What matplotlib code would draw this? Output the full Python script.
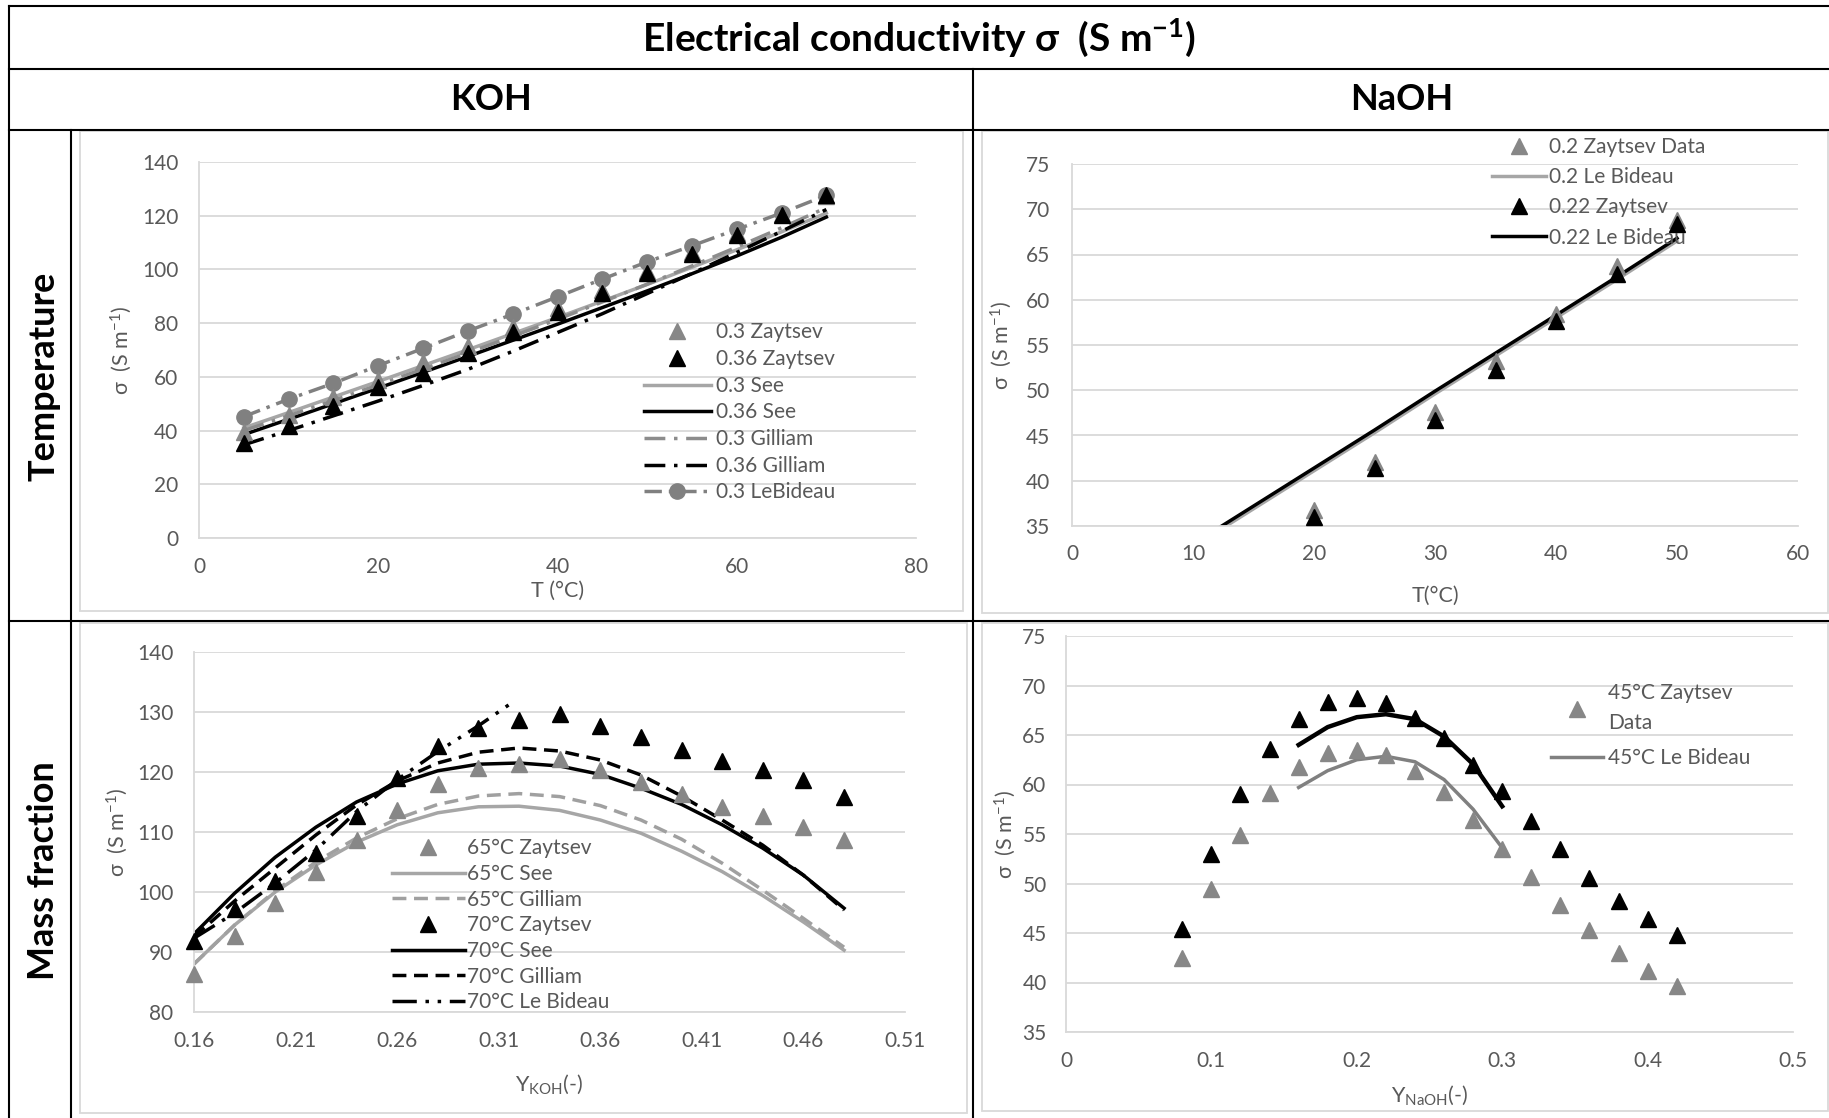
import matplotlib
matplotlib.use("Agg")
import matplotlib.pyplot as plt
from matplotlib.lines import Line2D
from matplotlib.patches import Rectangle

plt.rcParams['font.family'] = ['Lato', 'DejaVu Sans']
plt.rcParams['mathtext.fontset'] = 'custom'
plt.rcParams['mathtext.rm'] = 'Lato'
plt.rcParams['mathtext.it'] = 'Lato:italic'
plt.rcParams['mathtext.bf'] = 'Lato:bold'

# ---------------- data ----------------
# KOH vs temperature
koh_T = [5, 10, 15, 20, 25, 30, 35, 40, 45, 50, 55, 60, 65, 70]
koh_zaytsev_030 = [39.5, 45.8, 52.5, 59.0, 65.5, 71.5, 78.5, 85.5, 92.5, 99.5, 106.5, 113.5, 120.5, 127.5]
koh_zaytsev_036 = [35.3, 41.8, 49.0, 56.4, 61.5, 69.0, 76.8, 84.0, 91.3, 98.7, 105.9, 112.7, 120.2, 127.6]
koh_see_030 = [41.0, 46.7, 52.5, 58.3, 64.2, 70.1, 76.1, 82.1, 88.2, 94.4, 100.8, 107.3, 114.0, 121.0]
koh_see_036 = [38.5, 44.2, 50.0, 55.8, 61.7, 67.6, 73.6, 79.6, 85.8, 92.0, 98.4, 105.0, 112.0, 119.5]
koh_gilliam_030 = [40.0, 45.5, 51.2, 57.0, 62.9, 68.9, 75.1, 81.4, 87.9, 94.5, 101.3, 108.3, 115.5, 123.0]
koh_gilliam_036 = [34.7, 40.0, 45.5, 51.0, 56.8, 62.8, 69.5, 76.5, 83.5, 91.0, 98.5, 106.3, 114.2, 122.3]
koh_lebideau_030 = [45.2, 51.7, 57.6, 64.2, 70.6, 77.1, 83.3, 89.8, 96.4, 102.8, 108.8, 114.9, 121.0, 127.6]

# NaOH vs temperature
naoh_T = [20, 25, 30, 35, 40, 45, 50]
naoh_zaytsev_020 = [36.8, 42.1, 47.6, 53.2, 58.4, 63.7, 68.8]
naoh_zaytsev_022 = [36.0, 41.4, 46.7, 52.2, 57.7, 62.9, 68.4]
naoh_T_model = [10, 15, 20, 25, 30, 35, 40, 45, 50]
naoh_lebideau_020 = [32.7, 36.9, 41.1, 45.3, 49.6, 53.8, 58.0, 62.2, 66.5]
naoh_lebideau_022 = [33.0, 37.2, 41.4, 45.6, 49.9, 54.1, 58.3, 62.5, 66.8]

# KOH vs mass fraction
koh_Y = [0.16, 0.18, 0.20, 0.22, 0.24, 0.26, 0.28, 0.30, 0.32, 0.34, 0.36, 0.38, 0.40, 0.42, 0.44, 0.46, 0.48]
koh_zaytsev_65 = [86.4, 92.6, 98.2, 103.3, 108.7, 113.7, 118.0, 120.6, 121.3, 122.2, 120.3, 118.3, 116.3, 114.1, 112.7, 110.9, 108.6]
koh_see_65 = [88.0, 94.5, 100.0, 104.5, 108.3, 111.2, 113.2, 114.2, 114.3, 113.6, 112.0, 109.8, 106.8, 103.4, 99.4, 95.0, 90.3]
koh_gilliam_65 = [88.0, 94.5, 100.2, 105.0, 109.0, 112.2, 114.6, 116.0, 116.4, 115.9, 114.4, 112.0, 108.8, 104.8, 100.3, 95.6, 90.8]
koh_zaytsev_70 = [91.8, 97.2, 101.8, 106.5, 112.6, 119.0, 124.3, 127.3, 128.6, 129.7, 127.7, 125.8, 123.7, 121.8, 120.4, 118.6, 115.9]
koh_see_70 = [93.0, 99.8, 105.8, 110.8, 115.0, 118.0, 120.2, 121.3, 121.5, 121.0, 119.6, 117.3, 114.6, 111.2, 107.3, 102.8, 97.3]
koh_gilliam_70 = [92.5, 98.5, 104.0, 109.5, 114.5, 118.5, 121.5, 123.3, 124.0, 123.5, 122.0, 119.5, 116.0, 112.0, 107.8, 102.8, 97.0]
koh_Y_lebideau = [0.16, 0.18, 0.20, 0.22, 0.24, 0.26, 0.28, 0.30, 0.318]
koh_lebideau_70 = [92.3, 96.5, 101.5, 107.0, 113.4, 118.7, 123.4, 127.7, 131.9]

# NaOH vs mass fraction
naoh_Y = [0.08, 0.10, 0.12, 0.14, 0.16, 0.18, 0.20, 0.22, 0.24, 0.26, 0.28, 0.30, 0.32, 0.34, 0.36, 0.38, 0.40, 0.42]
naoh_zaytsev_45 = [42.5, 49.4, 54.9, 59.1, 61.8, 63.2, 63.5, 63.0, 61.35, 59.2, 56.4, 53.45, 50.7, 47.8, 45.3, 43.0, 41.2, 39.6]
naoh_zaytsev_black = [45.4, 52.95, 59.0, 63.6, 66.6, 68.3, 68.75, 68.2, 66.7, 64.7, 62.0, 59.3, 56.3, 53.5, 50.6, 48.25, 46.4, 44.8]
naoh_Y_model = [0.16, 0.18, 0.20, 0.22, 0.24, 0.26, 0.28, 0.30]
naoh_lebideau_45 = [59.7, 61.4, 62.5, 62.85, 62.3, 60.5, 57.5, 53.6]
naoh_lebideau_black = [64.0, 65.8, 66.8, 67.1, 66.6, 64.85, 62.05, 57.8]

# ---------------- layout helpers ----------------
W, H = 1829, 1118
fig = plt.figure(figsize=(W / 100, H / 100), dpi=100)


def box(l, t, r, b):
    return [l / W, 1 - b / H, (r - l) / W, (b - t) / H]


def fx(x):
    return x / W


def fy(y):
    return 1 - y / H


TXT = '#595959'
GRID = '#d9d9d9'
GRAY_M = '#878787'
GRAY_L = '#a6a6a6'

# table lines
lw_tab = 1.5
tab_lines = [
    ((8.5, 1829), (6, 6)),
    ((8.5, 1829), (69, 69)),
    ((8.5, 1829), (130, 130)),
    ((8.5, 1829), (620.5, 620.5)),
    ((8.5, 8.5), (6, 1118)),
    ((71, 71), (130, 1118)),
    ((973, 973), (69, 1118)),
]
for xs, ys in tab_lines:
    fig.add_artist(Line2D([fx(xs[0]), fx(xs[1])], [fy(ys[0]), fy(ys[1])],
                          transform=fig.transFigure, color='black', lw=lw_tab))

# chart area frames
for (l, t, r, b) in [(80, 131, 963, 611), (982, 131, 1828, 613), (80, 623, 967, 1113), (982, 623, 1828, 1111)]:
    fig.add_artist(Rectangle((fx(l), fy(b)), (r - l) / W, (b - t) / H, transform=fig.transFigure,
                             fill=False, edgecolor=GRID, lw=1.3))

# headers
fig.text(fx(919), fy(37.5), r'Electrical conductivity σ  (S m$^{\mathbf{-1}}$)', ha='center', va='center',
         fontsize=28, fontweight='bold')
fig.text(fx(491), fy(99.5), 'KOH', ha='center', va='center', fontsize=26, fontweight='bold')
fig.text(fx(1402), fy(99.5), 'NaOH', ha='center', va='center', fontsize=26, fontweight='bold')
fig.text(fx(44), fy(376), 'Temperature', ha='center', va='center', rotation=90, fontsize=26, fontweight='bold')
fig.text(fx(44), fy(871), 'Mass fraction', ha='center', va='center', rotation=90, fontsize=26, fontweight='bold')

FS = 15
LW = 2.5


def style(ax, xlim, ylim, xticks, yticks, xpad, ypad):
    ax.set_xlim(*xlim)
    ax.set_ylim(*ylim)
    ax.set_xticks(xticks)
    ax.set_yticks(yticks)
    for s in ['top', 'right']:
        ax.spines[s].set_visible(False)
    for s in ['left', 'bottom']:
        ax.spines[s].set_color(GRID)
        ax.spines[s].set_linewidth(1.3)
    ax.yaxis.grid(True, color=GRID, lw=1.3)
    ax.set_axisbelow(True)
    ax.tick_params(axis='x', length=0, pad=xpad, labelsize=FS, labelcolor=TXT)
    ax.tick_params(axis='y', length=0, pad=ypad, labelsize=FS, labelcolor=TXT)


def place_labels(ax, axbox, xl, yl, xlab_y, ylab_x):
    l, t, r, b = axbox
    ax.set_xlabel(xl, fontsize=15.5, color=TXT)
    ax.set_ylabel(yl, fontsize=15.5, color=TXT)
    ax.xaxis.set_label_coords(0.5, (b - xlab_y) / (b - t))
    ax.yaxis.set_label_coords((ylab_x - l) / (r - l), 0.5)
    ax.xaxis.label.set_va('center')
    ax.yaxis.label.set_va('center')


def legend(ax, handles, left, top, hl, pad, spacing):
    return ax.legend(handles=handles, loc='upper left', bbox_to_anchor=(fx(left), fy(top)),
                     bbox_transform=fig.transFigure, frameon=False, borderpad=0, borderaxespad=0,
                     handlelength=hl, handletextpad=pad, labelspacing=spacing, fontsize=FS, labelcolor=TXT)


YLAB = 'σ  (S m$^{-1}$)'

# ---------- panel 1: KOH vs T ----------
b1 = (199, 162, 916, 538)
ax1 = fig.add_axes(box(*b1))
style(ax1, (0, 80), (0, 140), range(0, 81, 20), range(0, 141, 20), 14, 15)
h = []
h.append(ax1.plot(koh_T, koh_zaytsev_030, ls='none', marker='^', ms=11, color=GRAY_M, label='0.3 Zaytsev', clip_on=False, zorder=4)[0])
h.append(ax1.plot(koh_T, koh_zaytsev_036, ls='none', marker='^', ms=11, color='black', label='0.36 Zaytsev', clip_on=False, zorder=5)[0])
h.append(ax1.plot(koh_T, koh_see_030, color=GRAY_L, lw=LW, label='0.3 See')[0])
h.append(ax1.plot(koh_T, koh_see_036, color='black', lw=LW, label='0.36 See')[0])
h.append(ax1.plot(koh_T, koh_gilliam_030, color='#8c8c8c', lw=LW, dashes=(6, 2.5, 1, 2.5), label='0.3 Gilliam')[0])
h.append(ax1.plot(koh_T, koh_gilliam_036, color='black', lw=LW, dashes=(6, 2.5, 1, 2.5), label='0.36 Gilliam')[0])
h.append(ax1.plot(koh_T, koh_lebideau_030, color='#808080', lw=LW, dashes=(5, 2, 1, 2), marker='o', ms=11,
                  label='0.3 LeBideau', clip_on=False, zorder=3)[0])
legend(ax1, h, 644, 322.5, 3.2, 0.25, 0.32)
place_labels(ax1, b1, 'T (°C)', YLAB, 591, 121)

# ---------- panel 2: NaOH vs T ----------
b2 = (1072, 164, 1798, 526)
ax2 = fig.add_axes(box(*b2))
style(ax2, (0, 60), (35, 75), range(0, 61, 10), range(35, 76, 5), 13, 16)
h = []
h.append(ax2.plot(naoh_T, naoh_zaytsev_020, ls='none', marker='^', ms=12, color=GRAY_M, label='0.2 Zaytsev Data', clip_on=False, zorder=4)[0])
h.append(ax2.plot(naoh_T_model, naoh_lebideau_020, color=GRAY_L, lw=LW, label='0.2 Le Bideau')[0])
h.append(ax2.plot(naoh_T, naoh_zaytsev_022, ls='none', marker='^', ms=12, color='black', label='0.22 Zaytsev', clip_on=False, zorder=5)[0])
h.append(ax2.plot(naoh_T_model, naoh_lebideau_022, color='black', lw=LW, label='0.22 Le Bideau')[0])
legend(ax2, h, 1492, 137, 2.6, 0.15, 0.49)
place_labels(ax2, b2, 'T(°C)', YLAB, 596, 1001)

# ---------- panel 3: KOH vs Y ----------
b3 = (194, 652, 905, 1012)
ax3 = fig.add_axes(box(*b3))
style(ax3, (0.16, 0.51), (80, 140), [0.16, 0.21, 0.26, 0.31, 0.36, 0.41, 0.46, 0.51], range(80, 141, 10), 14, 15)
ax3.set_xticklabels(['0.16', '0.21', '0.26', '0.31', '0.36', '0.41', '0.46', '0.51'])
h = []
h.append(ax3.plot(koh_Y, koh_zaytsev_65, ls='none', marker='^', ms=12, color=GRAY_M, label='65°C Zaytsev', clip_on=False, zorder=4)[0])
h.append(ax3.plot(koh_Y, koh_see_65, color=GRAY_L, lw=LW, label='65°C See')[0])
h.append(ax3.plot(koh_Y, koh_gilliam_65, color='#a0a0a0', lw=LW, dashes=(4, 2.2), label='65°C Gilliam')[0])
h.append(ax3.plot(koh_Y, koh_zaytsev_70, ls='none', marker='^', ms=12, color='black', label='70°C Zaytsev', clip_on=False, zorder=5)[0])
h.append(ax3.plot(koh_Y, koh_see_70, color='black', lw=LW, label='70°C See')[0])
h.append(ax3.plot(koh_Y, koh_gilliam_70, color='black', lw=LW, dashes=(4, 2.2), label='70°C Gilliam')[0])
h.append(ax3.plot(koh_Y_lebideau, koh_lebideau_70, color='black', lw=LW, dashes=(7, 2.5, 1, 2.5, 1, 2.5), label='70°C Le Bideau')[0])
legend(ax3, h, 392, 838.5, 3.5, 0.1, 0.27)
place_labels(ax3, b3, r'Y$_{\mathrm{KOH}}$(-)', YLAB, 1084, 117)

# ---------- panel 4: NaOH vs Y ----------
b4 = (1066, 636, 1793, 1032)
ax4 = fig.add_axes(box(*b4))
style(ax4, (0, 0.5), (35, 75), [0, 0.1, 0.2, 0.3, 0.4, 0.5], range(35, 76, 5), 14, 14)
ax4.set_xticklabels(['0', '0.1', '0.2', '0.3', '0.4', '0.5'])
h = []
h.append(ax4.plot(naoh_Y, naoh_zaytsev_45, ls='none', marker='^', ms=11.5, color=GRAY_M, label='45°C Zaytsev\nData', clip_on=False, zorder=4)[0])
h.append(ax4.plot(naoh_Y_model, naoh_lebideau_45, color='#808080', lw=LW, label='45°C Le Bideau')[0])
ax4.plot(naoh_Y, naoh_zaytsev_black, ls='none', marker='^', ms=11.5, color='black', clip_on=False, zorder=5)
ax4.plot(naoh_Y_model, naoh_lebideau_black, color='black', lw=3.2)
leg4 = legend(ax4, h, 1551, 683, 2.5, 0.25, 0.75)
leg4.get_texts()[0].set_linespacing(1.6)
place_labels(ax4, b4, r'Y$_{\mathrm{NaOH}}$(-)', YLAB, 1095, 1005)

fig.savefig('out.png', dpi=100)
